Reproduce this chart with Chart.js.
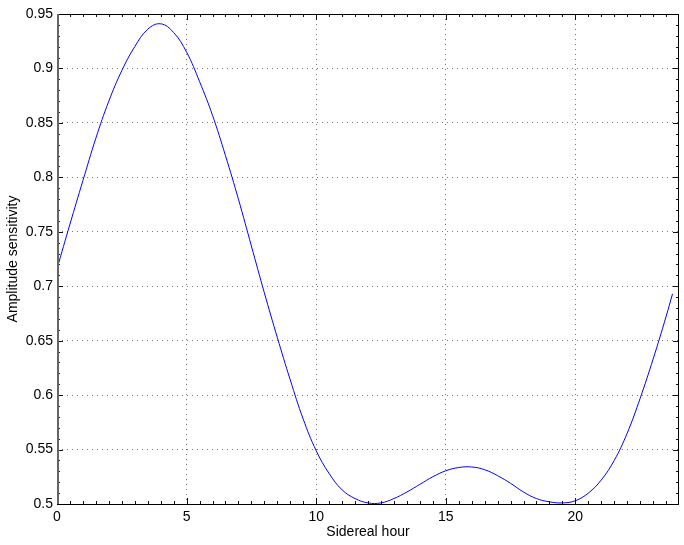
<!DOCTYPE html>
<html>
<head>
<meta charset="utf-8">
<script src="https://cdn.jsdelivr.net/npm/chart.js@4.4.1/dist/chart.umd.min.js"></script>
<style>
    html, body { margin: 0; padding: 0; background: #fff; }
    canvas { display: block; }
</style>
</head>
<body>
<canvas id="sensChart" width="684" height="545"></canvas>
<script>
// Values
const hours = [0, 0.5, 1, 1.5, 2, 2.5, 3, 3.5, 4, 4.5, 5, 5.5, 6, 6.5, 7, 7.5, 8, 8.5, 9, 9.5,
    10, 10.5, 11, 11.5, 12, 12.5, 13, 13.5, 14, 14.5, 15, 15.5, 16, 16.5, 17, 17.5, 18, 18.5, 19, 19.5,
    20, 20.5, 21, 21.5, 22, 22.5, 23, 23.5, 23.75];
const sensitivity = [0.716, 0.757, 0.797, 0.836, 0.870, 0.898, 0.920, 0.936, 0.941, 0.933,
    0.915, 0.888, 0.857, 0.820, 0.780, 0.737, 0.694, 0.653, 0.614, 0.578,
    0.549, 0.528, 0.513, 0.505, 0.501, 0.501, 0.505, 0.511, 0.518, 0.525,
    0.5305, 0.5335, 0.534, 0.5315, 0.526, 0.519, 0.511, 0.505, 0.502, 0.501,
    0.503, 0.510, 0.522, 0.540, 0.565, 0.597, 0.633, 0.672, 0.693];

const xTicks = [0, 5, 10, 15, 20];
const xTickLabels = ['0', '5', '10', '15', '20'];
const yTicks = [0.5, 0.55, 0.6, 0.65, 0.7, 0.75, 0.8, 0.85, 0.9, 0.95];
const yTickLabels = ['0.5', '0.55', '0.6', '0.65', '0.7', '0.75', '0.8', '0.85', '0.9', '0.95'];

const FONT = 'Liberation Sans, Arial, Helvetica, sans-serif';

// MATLAB style box with inward major and minor ticks on all four sides
const boxTicksPlugin = {
    id: 'boxTicks',
    afterDraw(chart) {
        const ctx = chart.ctx;
        const area = chart.chartArea;
        const xs = chart.scales.x;
        const ys = chart.scales.y;
        ctx.save();
        ctx.strokeStyle = '#111';
        ctx.lineWidth = 1;

        const vTick = (v, len) => {
            const px = Math.round(xs.getPixelForValue(v)) + 0.5;
            ctx.beginPath();
            ctx.moveTo(px, area.bottom); ctx.lineTo(px, area.bottom - len);
            ctx.moveTo(px, area.top); ctx.lineTo(px, area.top + len);
            ctx.stroke();
        };
        const hTick = (v, len) => {
            const py = Math.round(ys.getPixelForValue(v)) + 0.5;
            ctx.beginPath();
            ctx.moveTo(area.left, py); ctx.lineTo(area.left + len, py);
            ctx.moveTo(area.right, py); ctx.lineTo(area.right - len, py);
            ctx.stroke();
        };

        for (let i = 1; i < 48; i++) {
            const v = i * 0.5;
            if (i % 10 === 0) vTick(v, 6); else vTick(v, 3);
        }
        for (let i = 1; i < 45; i++) {
            const v = 0.5 + i * 0.01;
            if (i % 5 === 0) hTick(v, 6); else hTick(v, 3);
        }

        // box
        ctx.strokeStyle = '#000';
        ctx.strokeRect(Math.round(area.left) + 0.5, Math.round(area.top) + 0.5,
            Math.round(area.right - area.left) - 1, Math.round(area.bottom - area.top));
        ctx.strokeStyle = '#666';
        ctx.lineWidth = 2;
        ctx.beginPath();
        ctx.moveTo(area.left + 1, area.top);
        ctx.lineTo(area.left + 1, area.bottom);
        ctx.stroke();
        ctx.restore();
    }
};

const ctx = document.getElementById('sensChart').getContext('2d');
const sensChart = new Chart(ctx, {
    type: 'line',
    data: {
        datasets: [{
            label: 'Amplitude sensitivity',
            data: hours.map((h, i) => ({ x: h, y: sensitivity[i] })),
            borderColor: '#0000ff',
            borderWidth: 1,
            pointRadius: 0,
            fill: false,
            tension: 0.4
        }]
    },
    options: {
        responsive: false,
        animation: false,
        layout: {
            padding: { top: 14, right: 5, left: 0, bottom: 0 }
        },
        plugins: {
            legend: { display: false },
            tooltip: { enabled: false }
        },
        scales: {
            x: {
                type: 'linear',
                min: 0,
                max: 24,
                afterFit: (scale) => { scale.height = 41; },
                afterBuildTicks: (scale) => { scale.ticks = xTicks.map(v => ({ value: v })); },
                grid: {
                    color: '#777',
                    lineWidth: 1,
                    drawTicks: false
                },
                border: { display: false, dash: [1, 4] },
                ticks: {
                    autoSkip: false,
                    maxRotation: 0,
                    padding: 5,
                    color: '#000',
                    font: { family: FONT, size: 14 },
                    callback: (value, index) => xTickLabels[index]
                },
                title: {
                    display: true,
                    text: 'Sidereal hour',
                    color: '#000',
                    font: { family: FONT, size: 14 },
                    padding: { top: 0, bottom: 4 }
                }
            },
            y: {
                type: 'linear',
                min: 0.5,
                max: 0.95,
                afterFit: (scale) => { scale.width = 57; },
                afterBuildTicks: (scale) => { scale.ticks = yTicks.map(v => ({ value: v })); },
                grid: {
                    color: '#777',
                    lineWidth: 1,
                    drawTicks: false
                },
                border: { display: false, dash: [1, 4] },
                ticks: {
                    autoSkip: false,
                    padding: 4,
                    color: '#000',
                    font: { family: FONT, size: 14 },
                    callback: (value, index) => yTickLabels[index]
                },
                title: {
                    display: true,
                    text: 'Amplitude sensitivity',
                    color: '#000',
                    font: { family: FONT, size: 14 },
                    padding: { top: 5, bottom: 0 }
                }
            }
        }
    },
    plugins: [boxTicksPlugin]
});
</script>
</body>
</html>
